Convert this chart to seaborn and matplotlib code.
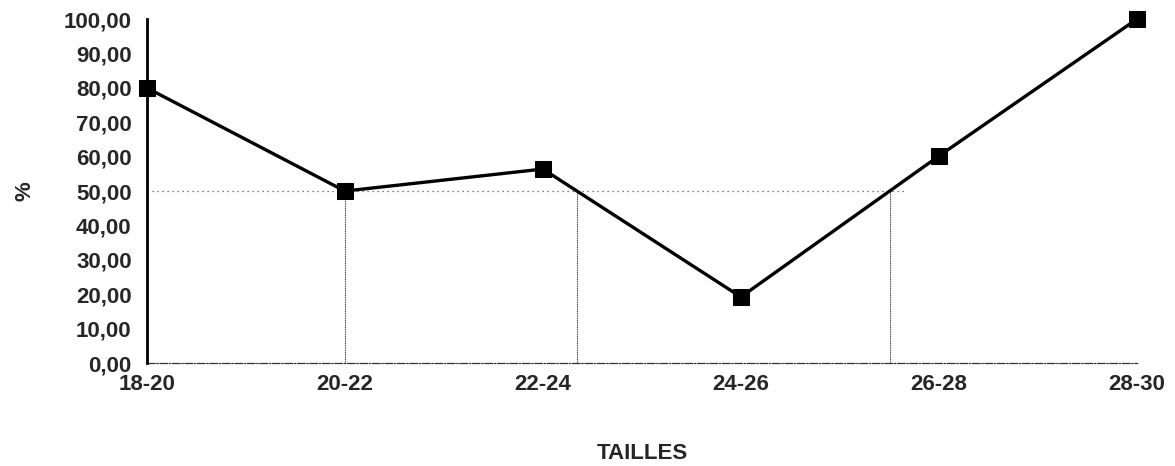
import numpy as np
import pandas as pd
import matplotlib
matplotlib.use("Agg")
import matplotlib.pyplot as plt
import seaborn as sns

categories = ["18-20", "20-22", "22-24", "24-26", "26-28", "28-30"]
values = [80.0, 50.0, 56.4, 19.2, 60.2, 100.0]
y_ticks = [0, 10, 20, 30, 40, 50, 60, 70, 80, 90, 100]
threshold = 50.0

sns.set_theme(style="white")
plt.rcParams['font.family'] = ['Liberation Sans', 'DejaVu Sans']

df = pd.DataFrame({"pos": np.arange(len(categories)), "val": values})

fig = plt.figure(figsize=(11.75, 4.66), dpi=100)
ax = fig.add_axes([0.125, 0.221, 0.8426, 0.738])

# crossing points of the curve with the threshold line
cross = []
for i in range(len(values) - 1):
    a, b = values[i], values[i + 1]
    if a == threshold:
        cross.append(float(i))
    elif (a - threshold) * (b - threshold) < 0:
        cross.append(i + (threshold - a) / (b - a))
for c in cross:
    ax.plot([c, c], [0, threshold], color="#444444", lw=0.8, ls=(0, (1, 0.6)), zorder=1)
if cross:
    ax.plot([0, max(cross) + 0.08], [threshold, threshold], color="#555555", lw=0.9,
            ls=(0, (1, 3)), zorder=1)

sns.lineplot(data=df, x="pos", y="val", ax=ax, color="black", lw=2.4, marker="s",
             markersize=11, markeredgecolor="black", markerfacecolor="black", sort=False,
             zorder=5, clip_on=False)

ax.set_xlim(0, len(categories) - 1)
ax.set_ylim(0, 100)
ax.set_yticks(y_ticks)
ax.set_yticklabels([f"{v:.2f}".replace(".", ",") for v in y_ticks], fontsize=16, fontweight="bold")
ax.set_xticks(range(len(categories)))
ax.set_xticklabels(categories, fontsize=16, fontweight="bold")

for s in ["top", "right"]:
    ax.spines[s].set_visible(False)
ax.spines["left"].set_color("black")
ax.spines["left"].set_linewidth(2.0)
ax.spines["bottom"].set_color("#333333")
ax.spines["bottom"].set_linewidth(0.9)
ax.spines["bottom"].set_linestyle((0, (6, 1.5, 1, 1.5)))
ax.spines["left"].set_zorder(4)

ax.tick_params(axis="y", which="major", direction="out", length=5, width=0.8, color="black", pad=6)
ax.tick_params(axis="x", which="major", direction="inout", length=12, width=1.2, color="black", pad=2)

ax.set_xlabel("TAILLES", fontsize=16, fontweight="bold")
ax.xaxis.set_label_coords(0.5, -0.232)
ax.set_ylabel("%", fontsize=16, fontweight="bold")
ax.yaxis.set_label_coords(-0.112, 0.5)
ax.grid(False)

fig.savefig("out.png", dpi=100)
